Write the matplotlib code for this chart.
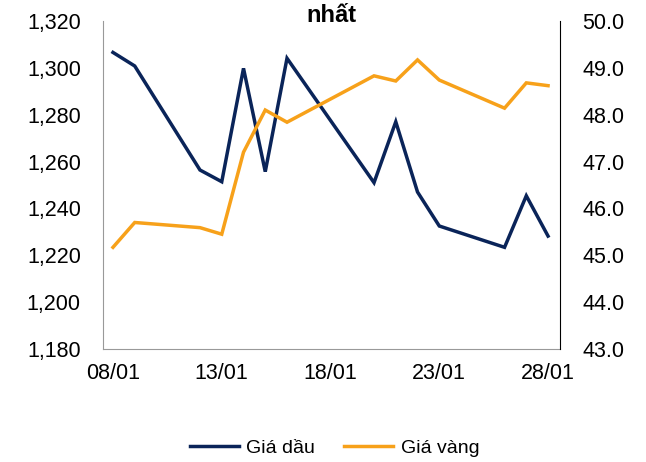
import matplotlib
matplotlib.use("Agg")
import matplotlib.pyplot as plt
from matplotlib.lines import Line2D

plt.rcParams["font.family"] = ["Liberation Sans", "DejaVu Sans"]

# ngày trong tháng 1
days = [8, 9, 12, 13, 14, 15, 16, 20, 21, 22, 23, 26, 27, 28]

gia_dau = [1306.6, 1300.8, 1256.4, 1251.4, 1299.8, 1255.7, 1304.1,
           1251.0, 1277.0, 1247.0, 1232.5, 1223.4, 1245.4, 1228.2]

gia_vang = [45.17, 45.70, 45.59, 45.45, 47.20, 48.10, 47.84,
            48.83, 48.72, 49.17, 48.74, 48.14, 48.68, 48.62]

tick_days = [8, 13, 18, 23, 28]
tick_labels = ["08/01", "13/01", "18/01", "23/01", "28/01"]

navy = "#0A2459"
orange = "#F7A11A"

fig = plt.figure(figsize=(6.46, 4.62), dpi=100)
ax = fig.add_axes([0.1594, 0.2446, 0.7075, 0.7099])
ax2 = ax.twinx()

ax.plot(days, gia_dau, color=navy, linewidth=2.5, solid_joinstyle="miter")
ax2.plot(days, gia_vang, color=orange, linewidth=2.5, solid_joinstyle="miter")

ax.set_xlim(7.54, 28.55)
ax.set_ylim(1180, 1320)
ax2.set_ylim(43.0, 50.0)

ax.set_xticks(tick_days)
ax.set_xticklabels(tick_labels)
ax.set_yticks(range(1180, 1321, 20))
ax.set_yticklabels([f"{v:,}" for v in range(1180, 1321, 20)])
ax2.set_yticks([43 + i for i in range(8)])
ax2.set_yticklabels([f"{43 + i:.1f}" for i in range(8)])

ax.tick_params(axis="both", length=0, labelsize=15.5, pad=16)
ax.tick_params(axis="x", pad=10)
ax2.tick_params(axis="y", length=0, labelsize=15.5, pad=16)

for a in (ax, ax2):
    a.spines["top"].set_visible(False)
ax.spines["right"].set_visible(False)
ax.spines["left"].set_color("#999999")
ax.spines["bottom"].set_color("#999999")
ax2.spines["left"].set_visible(False)
ax2.spines["bottom"].set_visible(False)
ax2.spines["right"].set_color("black")

fig.text(0.513, 0.953, "nhất", ha="center", va="baseline",
         fontsize=17, fontweight="bold")

handles = [Line2D([0], [0], color=navy, linewidth=2.5),
           Line2D([0], [0], color=orange, linewidth=2.5)]
fig.legend(handles, ["Giá dầu", "Giá vàng"], loc="center",
           bbox_to_anchor=(0.518, 0.03), ncol=2, frameon=False,
           fontsize=14, handlelength=2.5, handletextpad=0.4,
           columnspacing=1.5)

fig.savefig("out.png", dpi=100)
